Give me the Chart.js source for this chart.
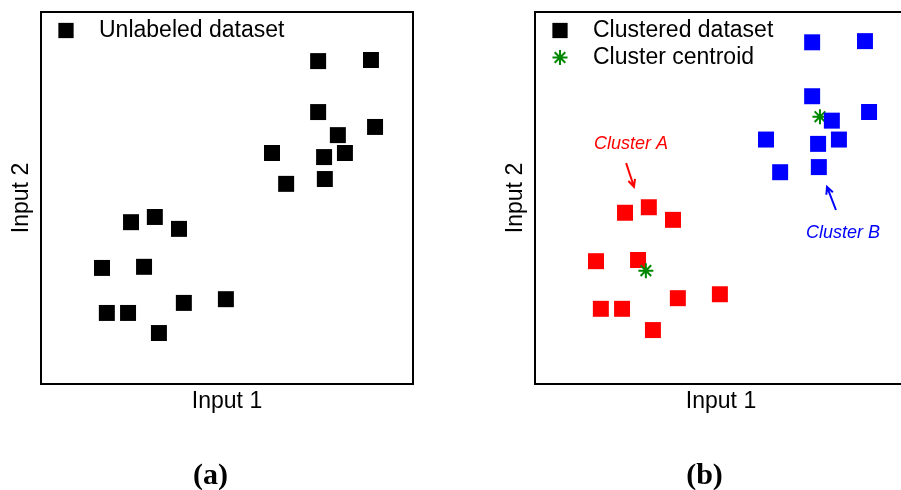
<!DOCTYPE html>
<html>
<head>
<meta charset="utf-8">
<script src="https://cdn.jsdelivr.net/npm/chart.js@4/dist/chart.umd.min.js"></script>
<style>
  html, body { margin: 0; padding: 0; background: #fff; overflow: hidden; }
  .panel { position: absolute; top: 0; width: 450px; height: 490px; }
  #panelA { left: 0; }
  #panelB { left: 494px; }
</style>
</head>
<body>
<div class="panel" id="panelA"><canvas id="chartA" width="450" height="490"></canvas></div>
<div class="panel" id="panelB"><canvas id="chartB" width="450" height="490"></canvas></div>
<script>
// same 20 samples in both panels
const input1 = [7.45, 8.87, 7.45, 8.98, 7.98, 6.21, 7.61, 8.17, 6.59, 7.63,
                2.42, 3.06, 3.71, 1.64, 2.77, 1.77, 2.34, 3.84, 4.97, 3.17];
const input2 = [8.68, 8.71, 7.31, 6.91, 6.69, 6.21, 6.10, 6.21, 5.38, 5.51,
                4.35, 4.49, 4.17, 3.12, 3.15, 1.91, 1.91, 2.18, 2.28, 1.37];
const clusterOf = ['B', 'B', 'B', 'B', 'B', 'B', 'B', 'B', 'B', 'B',
                   'A', 'A', 'A', 'A', 'A', 'A', 'A', 'A', 'A', 'A'];
const centroidNames = ['A', 'B'];
const centroidX = [2.98, 7.66];
const centroidY = [2.88, 6.79];

const SANS = '"Liberation Sans", Arial, sans-serif';
const SERIF = '"Liberation Serif", "Times New Roman", serif';

function pointsOf(name) {
    const pts = [];
    input1.forEach((x, i) => {
        if (name === null || clusterOf[i] === name) pts.push({ x: x, y: input2[i] });
    });
    return pts;
}

const framePlugin = {
    id: 'frame',
    afterDraw(chart) {
        const { ctx, chartArea: a } = chart;
        ctx.save();
        ctx.strokeStyle = '#000';
        ctx.lineWidth = 2;
        ctx.strokeRect(a.left, a.top, a.right - a.left, a.bottom - a.top);
        ctx.restore();
    }
};

// legend drawn inside the plot box, like the original figure
const insideLegend = {
    id: 'insideLegend',
    afterDraw(chart, args, opts) {
        const { ctx, chartArea: a } = chart;
        ctx.save();
        ctx.font = '23px ' + SANS;
        ctx.textBaseline = 'middle';
        opts.items.forEach((item, i) => {
            const y = a.top + 18.5 + i * 27;
            ctx.fillStyle = item.color;
            ctx.strokeStyle = item.color;
            ctx.lineWidth = item.style === 'star' ? 2 : 0;
            Chart.helpers.drawPoint(ctx, {
                pointStyle: item.style,
                radius: item.style === 'star' ? 7.5 : 10.8,
                borderWidth: item.style === 'star' ? 2 : 0,
                rotation: 0
            }, a.left + 25, y);
            ctx.fillStyle = '#000';
            ctx.fillText(item.label, a.left + 58, y);
        });
        ctx.restore();
    }
};

const clusterNotes = {
    id: 'clusterNotes',
    afterDraw(chart, args, opts) {
        if (!opts.notes) return;
        const { ctx, scales } = chart;
        const px = v => scales.x.getPixelForValue(v);
        const py = v => scales.y.getPixelForValue(v);
        ctx.save();
        ctx.font = 'italic 18px ' + SANS;
        ctx.textAlign = 'center';
        ctx.textBaseline = 'middle';
        ctx.lineWidth = 2;
        opts.notes.forEach(n => {
            ctx.fillStyle = n.color;
            ctx.strokeStyle = n.color;
            ctx.fillText(n.text, px(n.x), py(n.y));
            const x1 = px(n.from[0]), y1 = py(n.from[1]);
            const x2 = px(n.to[0]), y2 = py(n.to[1]);
            const ang = Math.atan2(y2 - y1, x2 - x1);
            const h = 8;
            ctx.beginPath();
            ctx.moveTo(x1, y1);
            ctx.lineTo(x2, y2);
            ctx.moveTo(x2 - h * Math.cos(ang - 0.45), y2 - h * Math.sin(ang - 0.45));
            ctx.lineTo(x2, y2);
            ctx.lineTo(x2 - h * Math.cos(ang + 0.45), y2 - h * Math.sin(ang + 0.45));
            ctx.stroke();
        });
        ctx.restore();
    }
};

function makeOptions(yMax, panelLabel, legendItems, notes) {
    return {
        responsive: false,
        animation: false,
        events: [],
        layout: { padding: { left: 8, right: 37, top: 12, bottom: 0 } },
        scales: {
            x: {
                type: 'linear', min: 0, max: 10,
                grid: { display: false, drawTicks: false },
                border: { display: false },
                ticks: { display: false },
                title: { display: true, text: 'Input 1', color: '#000',
                         font: { family: SANS, size: 23 }, padding: { top: 4.2, bottom: 0 } }
            },
            y: {
                type: 'linear', min: 0, max: yMax,
                grid: { display: false, drawTicks: false },
                border: { display: false },
                ticks: { display: false },
                title: { display: true, text: 'Input 2', color: '#000',
                         font: { family: SANS, size: 23 }, padding: { top: 0, bottom: 5.4 } }
            }
        },
        plugins: {
            legend: { display: false },
            tooltip: { enabled: false },
            title: {
                display: true, text: panelLabel, position: 'bottom', color: '#000',
                font: { family: SERIF, size: 30, weight: 'bold', lineHeight: 0.9 },
                padding: { top: 47.2, bottom: 0 }
            },
            insideLegend: { items: legendItems },
            clusterNotes: { notes: notes }
        }
    };
}

const squareStyle = { pointStyle: 'rect', pointRadius: 11.3, pointBorderWidth: 0 };

new Chart(document.getElementById('chartA'), {
    type: 'scatter',
    data: {
        datasets: [
            Object.assign({ label: 'Unlabeled dataset', data: pointsOf(null),
                            backgroundColor: '#000', borderColor: '#000' }, squareStyle)
        ]
    },
    options: makeOptions(10, '(a)',
        [{ label: 'Unlabeled dataset', style: 'rect', color: '#000' }], null),
    plugins: [framePlugin, insideLegend, clusterNotes]
});

new Chart(document.getElementById('chartB'), {
    type: 'scatter',
    data: {
        datasets: [
            Object.assign({ label: 'Cluster B', data: pointsOf('B'), order: 0,
                            backgroundColor: '#0000ff', borderColor: '#0000ff' }, squareStyle),
            {
                label: 'Cluster centroid', order: 1,
                data: centroidNames.map((n, i) => ({ x: centroidX[i], y: centroidY[i] })),
                pointStyle: 'star', pointRadius: 7.5, pointBorderWidth: 2,
                borderColor: '#008800', backgroundColor: '#008800'
            },
            Object.assign({ label: 'Cluster A', data: pointsOf('A'), order: 2,
                            backgroundColor: '#ff0000', borderColor: '#ff0000' }, squareStyle)
        ]
    },
    options: makeOptions(9.45, '(b)',
        [{ label: 'Clustered dataset', style: 'rect', color: '#000' },
         { label: 'Cluster centroid', style: 'star', color: '#008800' }],
        [{ text: 'Cluster A', color: '#ff0000', x: 2.58, y: 6.10, from: [2.45, 5.61], to: [2.66, 5.01] },
         { text: 'Cluster B', color: '#0000ff', x: 8.28, y: 3.84, from: [8.09, 4.42], to: [7.85, 5.01] }]),
    plugins: [framePlugin, insideLegend, clusterNotes]
});
</script>
</body>
</html>
